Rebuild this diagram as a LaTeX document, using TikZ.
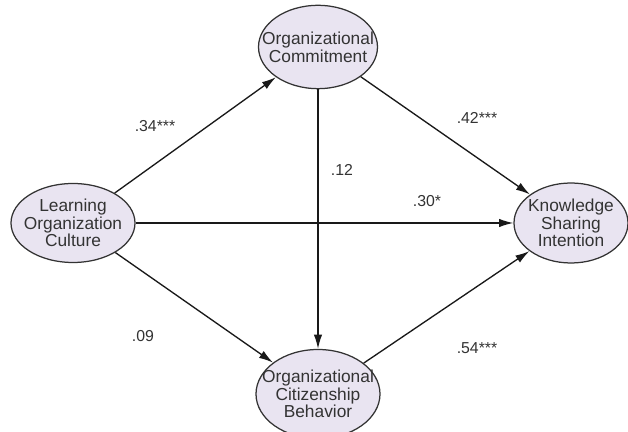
\documentclass[tikz,border=0pt]{standalone}
\usepackage{fontspec}
\setmainfont{Liberation Sans}
\usetikzlibrary{shapes.geometric,arrows.meta}
\definecolor{latentfill}{HTML}{E9E4F1}
\definecolor{inkgray}{HTML}{333333}

\begin{document}
\begin{tikzpicture}[x=0.6pt,y=-0.6pt,
    latent/.style={ellipse,draw=inkgray,line width=0.75pt,fill=latentfill,inner sep=0pt},
    txt/.style={align=center,text=inkgray,font=\fontsize{10.4}{10.6}\selectfont},
    coef/.style={text=inkgray,font=\fontsize{9.5}{10}\selectfont,inner sep=1pt},
    path/.style={-{Latex[length=8.5pt,width=5pt]},line width=0.8pt,draw=black!90}]
    \useasboundingbox (0,0) rectangle (628,432);

    % Define the latent variables
    \node[latent,minimum width=74.4pt,minimum height=47.4pt] (loc) at (73,223) {};
    \node[latent,minimum width=71.4pt,minimum height=50pt] (oc) at (318,47) {};
    \node[latent,minimum width=68.4pt,minimum height=48pt] (ksi) at (571,223) {};
    \node[latent,minimum width=74.4pt,minimum height=53.4pt] (ocb) at (318,394) {};

    % Labels inside the ellipses
    \node[txt] at (loc) {Learning\\Organization\\Culture};
    \node[txt] at (oc) {Organizational\\Commitment};
    \node[txt] at (ksi) {Knowledge\\Sharing\\Intention};
    \node[txt] at (ocb) {Organizational\\Citizenship\\Behavior};

    % Draw the paths
    \draw[path] (loc) -- (oc);
    \draw[path] (oc) -- (ksi);
    \draw[path] (loc) -- (ksi);
    \draw[path] (oc) -- (ocb);
    \draw[path] (loc) -- (ocb);
    \draw[path] (ocb) -- (ksi);

    % Path coefficients
    \node[coef] (c1) at (155,126) {.34***};
    \node[coef] (c2) at (477,118) {.42***};
    \node[coef] (c3) at (342,170) {.12};
    \node[coef] (c4) at (427,201) {.30*};
    \node[coef] (c5) at (143,336) {.09};
    \node[coef] (c6) at (477,348) {.54***};
\end{tikzpicture}
\end{document}
